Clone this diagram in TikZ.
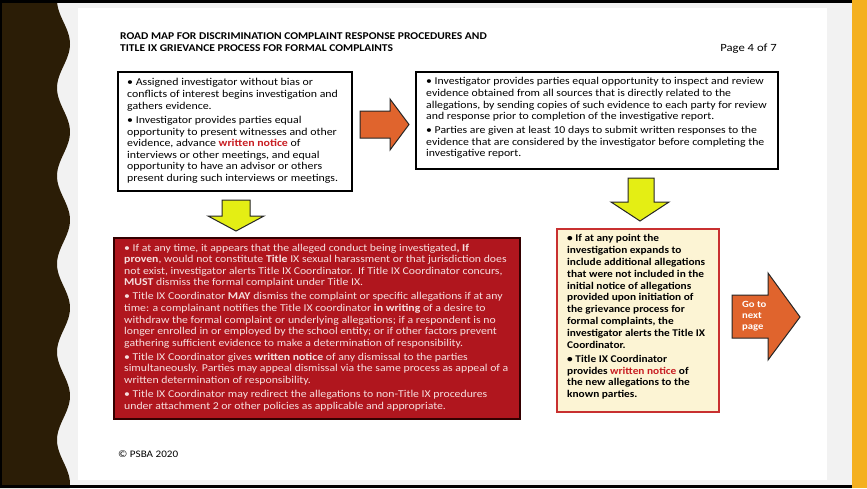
\documentclass[tikz,border=0pt]{standalone}
\usepackage{fontspec}
\setmainfont{Carlito}
\newfontfamily\fontBoxA{Carlito}[FakeStretch=1.13]
\newfontfamily\fontBoxB{Carlito}[FakeStretch=1.12]
\newfontfamily\fontBoxC{Carlito}[FakeStretch=1.12]
\newfontfamily\fontBoxD{Carlito}[FakeStretch=1.10]
\newfontfamily\fontTitle{Carlito}[FakeStretch=1.11]
\newfontfamily\fontPage{Carlito}[FakeStretch=1.15]
\newfontfamily\fontFoot{Carlito}[FakeStretch=1.11]
\newfontfamily\fontNext{Carlito}[FakeStretch=1.12]
\definecolor{darkband}{RGB}{43,29,6}
\definecolor{goldstrip}{RGB}{244,176,32}
\definecolor{paperbg}{RGB}{242,242,242}
\definecolor{arroworange}{RGB}{224,100,45}
\definecolor{arrowyellow}{RGB}{228,238,20}
\definecolor{redbox}{RGB}{176,22,30}
\definecolor{redboxtext}{RGB}{246,222,222}
\definecolor{paleyellow}{RGB}{252,244,212}
\definecolor{redborder}{RGB}{200,48,48}
\definecolor{wnred}{RGB}{200,30,35}
\newcommand{\wn}{\textcolor{wnred}{\textbf{written notice}}}
\begin{document}
\begin{tikzpicture}[x=1pt,y=-1pt,
  whitebox/.style={draw=black, line width=1.8pt, fill=white, inner sep=0pt},
  redpanel/.style={draw=black!80!red, line width=1.8pt, fill=redbox, inner sep=0pt},
  yellowpanel/.style={draw=redborder, line width=1.6pt, fill=paleyellow, inner sep=0pt},
  bodytext/.style={anchor=north west, inner sep=0pt, align=left},
  orangearrow/.style={draw=black!85, line width=1pt, fill=arroworange, line join=miter},
  yellowarrow/.style={draw=black!85, line width=1pt, fill=arrowyellow, line join=miter}]
\useasboundingbox (0,0) rectangle (867,488);
% background and frame
\fill[paperbg] (0,0) rectangle (867,488);
\fill[white] (78,8) rectangle (827,480);
\fill[darkband] (0,0) -- plot[domain=0:488, samples=200] ({63.5-6.5*cos((\x/88)*360)}, \x) -- (0,488) -- cycle;
\fill[black] (0,0) rectangle (852,3);
\fill[black] (0,485) rectangle (852,488);
\fill[black] (0,0) rectangle (2,488);
\fill[goldstrip] (852,0) rectangle (867,488);
% title
\node[anchor=north west, inner sep=0pt, align=left, font=\fontTitle\fontsize{10.4}{12}\selectfont\bfseries] (title) at (120,32.5)
  {ROAD MAP FOR DISCRIMINATION COMPLAINT RESPONSE PROCEDURES AND\\
   TITLE IX GRIEVANCE PROCESS FOR FORMAL COMPLAINTS};
\node[anchor=base east, inner sep=0pt, font=\fontPage\fontsize{11}{12}\selectfont] (page) at (777,51) {Page 4 of 7};
% boxes
\node[whitebox, minimum width=234pt, minimum height=119pt] (b1) at (235,131.5) {};
\node[whitebox, minimum width=362pt, minimum height=97pt] (b2) at (597,120.5) {};
\node[redpanel, minimum width=406pt, minimum height=181pt] (b3) at (317,328.5) {};
\node[yellowpanel, minimum width=162pt, minimum height=183pt] (b4) at (638,320.5) {};
% box texts
\node[bodytext, font=\fontBoxA\fontsize{10.5}{11.6}\selectfont] (t1) at (127,78.5) {%
• Assigned investigator without bias or\\
conflicts of interest begins investigation and\\
gathers evidence.\\[2.8pt]
• Investigator provides parties equal\\
opportunity to present witnesses and other\\
evidence, advance \wn{} of\\
interviews or other meetings, and equal\\
opportunity to have an advisor or others\\
present during such interviews or meetings.};
\node[bodytext, font=\fontBoxB\fontsize{10.5}{11.6}\selectfont] (t2) at (426,77.5) {%
• Investigator provides parties equal opportunity to inspect and review\\
evidence obtained from all sources that is directly related to the\\
allegations, by sending copies of such evidence to each party for review\\
and response prior to completion of the investigative report.\\[2.4pt]
• Parties are given at least 10 days to submit written responses to the\\
evidence that are considered by the investigator before completing the\\
investigative report.};
\node[bodytext, text=redboxtext, font=\fontBoxC\fontsize{10.5}{11.6}\selectfont] (t3) at (124,243.5) {%
• If at any time, it appears that the alleged conduct being investigated\textbf{, If}\\
\textbf{proven}, would not constitute \textbf{Title} IX sexual harassment or that jurisdiction does\\
not exist, investigator alerts Title IX Coordinator.\ \ If Title IX Coordinator concurs,\\
\textbf{MUST} dismiss the formal complaint under Title IX.\\[2.4pt]
• Title IX Coordinator \textbf{MAY} dismiss the complaint or specific allegations if at any\\
time: a complainant notifies the Title IX coordinator \textbf{in writing} of a desire to\\
withdraw the formal complaint or underlying allegations; if a respondent is no\\
longer enrolled in or employed by the school entity; or if other factors prevent\\
gathering sufficient evidence to make a determination of responsibility.\\[2.4pt]
• Title IX Coordinator gives \textbf{written notice} of any dismissal to the parties\\
simultaneously. Parties may appeal dismissal via the same process as appeal of a\\
written determination of responsibility.\\[2.4pt]
• Title IX Coordinator may redirect the allegations to non-Title IX procedures\\
under attachment 2 or other policies as applicable and appropriate.};
\node[bodytext, font=\fontBoxD\fontsize{10.3}{11.8}\selectfont\bfseries] (t4) at (567,234.5) {%
• If at any point the\\
investigation expands to\\
include additional allegations\\
that were not included in the\\
initial notice of allegations\\
provided upon initiation of\\
the grievance process for\\
formal complaints, the\\
investigator alerts the Title IX\\
Coordinator.\\[2.4pt]
• Title IX Coordinator\\
provides \wn{} of\\
the new allegations to the\\
known parties.};
% block arrows
\draw[orangearrow] (360,111) -- (390,111) -- (390,99) -- (409,124.5) -- (390,150) -- (390,138) -- (360,138) -- cycle;
\draw[yellowarrow] (222,200) -- (250,200) -- (250,216) -- (264,216) -- (236,231) -- (208,216) -- (222,216) -- cycle;
\draw[yellowarrow] (628,178) -- (654,178) -- (654,202) -- (669,202) -- (640,221) -- (611,202) -- (628,202) -- cycle;
\draw[orangearrow] (732,295) -- (768,295) -- (768,273) -- (800,317) -- (768,360) -- (768,338) -- (732,338) -- cycle;
\node[anchor=north west, inner sep=0pt, align=left, text=white, font=\fontNext\fontsize{9.5}{11}\selectfont\bfseries] (next) at (742,301.5) {Go to\\next\\page};
% footer
\node[anchor=base west, inner sep=0pt, font=\fontFoot\fontsize{10}{11}\selectfont] (copy) at (118,457.5) {© PSBA 2020};
\end{tikzpicture}
\end{document}
